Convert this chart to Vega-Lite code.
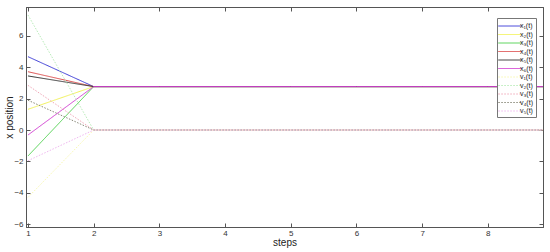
{
  "$schema": "https://vega.github.io/schema/vega-lite/v6.json",
  "width": 517,
  "height": 220,
  "autosize": {"type": "none"},
  "padding": {"left": 26, "top": 7, "right": 7, "bottom": 25},
  "background": "white",
  "config": {
    "view": {"stroke": "#555", "strokeWidth": 1},
    "font": "Liberation Sans",
    "axis": {
      "grid": false,
      "domainColor": "#555",
      "tickColor": "#555",
      "tickSize": -4,
      "labelColor": "#333333",
      "labelFontSize": 8,
      "labelFont": "Liberation Sans",
      "titleFont": "Liberation Sans",
      "titleFontWeight": "normal",
      "titleFontSize": 10,
      "titleColor": "#222222"
    },
    "legend": {
      "orient": "none",
      "legendX": 471,
      "legendY": 11,
      "strokeColor": "#777",
      "fillColor": "white",
      "padding": 3,
      "labelFontSize": 7,
      "labelFont": "Liberation Sans",
      "labelColor": "#222",
      "symbolType": "M-1.6,0L4,0",
      "symbolSize": 70,
      "symbolStrokeWidth": 1,
      "rowPadding": 0.5,
      "labelOffset": 10,
      "title": null
    }
  },
  "data": {
    "values": [
      {"series": "x₁(t)", "step": 1, "value": 4.68}, {"series": "x₁(t)", "step": 2, "value": 2.77}, {"series": "x₁(t)", "step": 3, "value": 2.77}, {"series": "x₁(t)", "step": 4, "value": 2.77}, {"series": "x₁(t)", "step": 5, "value": 2.77}, {"series": "x₁(t)", "step": 6, "value": 2.77}, {"series": "x₁(t)", "step": 7, "value": 2.77}, {"series": "x₁(t)", "step": 8, "value": 2.77}, {"series": "x₁(t)", "step": 9, "value": 2.77},
      {"series": "x₂(t)", "step": 1, "value": 1.32}, {"series": "x₂(t)", "step": 2, "value": 2.77}, {"series": "x₂(t)", "step": 3, "value": 2.77}, {"series": "x₂(t)", "step": 4, "value": 2.77}, {"series": "x₂(t)", "step": 5, "value": 2.77}, {"series": "x₂(t)", "step": 6, "value": 2.77}, {"series": "x₂(t)", "step": 7, "value": 2.77}, {"series": "x₂(t)", "step": 8, "value": 2.77}, {"series": "x₂(t)", "step": 9, "value": 2.77},
      {"series": "x₃(t)", "step": 1, "value": -1.66}, {"series": "x₃(t)", "step": 2, "value": 2.77}, {"series": "x₃(t)", "step": 3, "value": 2.77}, {"series": "x₃(t)", "step": 4, "value": 2.77}, {"series": "x₃(t)", "step": 5, "value": 2.77}, {"series": "x₃(t)", "step": 6, "value": 2.77}, {"series": "x₃(t)", "step": 7, "value": 2.77}, {"series": "x₃(t)", "step": 8, "value": 2.77}, {"series": "x₃(t)", "step": 9, "value": 2.77},
      {"series": "x₄(t)", "step": 1, "value": 3.72}, {"series": "x₄(t)", "step": 2, "value": 2.77}, {"series": "x₄(t)", "step": 3, "value": 2.77}, {"series": "x₄(t)", "step": 4, "value": 2.77}, {"series": "x₄(t)", "step": 5, "value": 2.77}, {"series": "x₄(t)", "step": 6, "value": 2.77}, {"series": "x₄(t)", "step": 7, "value": 2.77}, {"series": "x₄(t)", "step": 8, "value": 2.77}, {"series": "x₄(t)", "step": 9, "value": 2.77},
      {"series": "x₅(t)", "step": 1, "value": 3.45}, {"series": "x₅(t)", "step": 2, "value": 2.77}, {"series": "x₅(t)", "step": 3, "value": 2.77}, {"series": "x₅(t)", "step": 4, "value": 2.77}, {"series": "x₅(t)", "step": 5, "value": 2.77}, {"series": "x₅(t)", "step": 6, "value": 2.77}, {"series": "x₅(t)", "step": 7, "value": 2.77}, {"series": "x₅(t)", "step": 8, "value": 2.77}, {"series": "x₅(t)", "step": 9, "value": 2.77},
      {"series": "x₆(t)", "step": 1, "value": -0.32}, {"series": "x₆(t)", "step": 2, "value": 2.77}, {"series": "x₆(t)", "step": 3, "value": 2.77}, {"series": "x₆(t)", "step": 4, "value": 2.77}, {"series": "x₆(t)", "step": 5, "value": 2.77}, {"series": "x₆(t)", "step": 6, "value": 2.77}, {"series": "x₆(t)", "step": 7, "value": 2.77}, {"series": "x₆(t)", "step": 8, "value": 2.77}, {"series": "x₆(t)", "step": 9, "value": 2.77},
      {"series": "v₁(t)", "step": 1, "value": -4.3}, {"series": "v₁(t)", "step": 2, "value": 0}, {"series": "v₁(t)", "step": 3, "value": 0}, {"series": "v₁(t)", "step": 4, "value": 0}, {"series": "v₁(t)", "step": 5, "value": 0}, {"series": "v₁(t)", "step": 6, "value": 0}, {"series": "v₁(t)", "step": 7, "value": 0}, {"series": "v₁(t)", "step": 8, "value": 0}, {"series": "v₁(t)", "step": 9, "value": 0},
      {"series": "v₂(t)", "step": 1, "value": 7.34}, {"series": "v₂(t)", "step": 2, "value": 0}, {"series": "v₂(t)", "step": 3, "value": 0}, {"series": "v₂(t)", "step": 4, "value": 0}, {"series": "v₂(t)", "step": 5, "value": 0}, {"series": "v₂(t)", "step": 6, "value": 0}, {"series": "v₂(t)", "step": 7, "value": 0}, {"series": "v₂(t)", "step": 8, "value": 0}, {"series": "v₂(t)", "step": 9, "value": 0},
      {"series": "v₃(t)", "step": 1, "value": 2.85}, {"series": "v₃(t)", "step": 2, "value": 0}, {"series": "v₃(t)", "step": 3, "value": 0}, {"series": "v₃(t)", "step": 4, "value": 0}, {"series": "v₃(t)", "step": 5, "value": 0}, {"series": "v₃(t)", "step": 6, "value": 0}, {"series": "v₃(t)", "step": 7, "value": 0}, {"series": "v₃(t)", "step": 8, "value": 0}, {"series": "v₃(t)", "step": 9, "value": 0},
      {"series": "v₄(t)", "step": 1, "value": 1.9}, {"series": "v₄(t)", "step": 2, "value": 0}, {"series": "v₄(t)", "step": 3, "value": 0}, {"series": "v₄(t)", "step": 4, "value": 0}, {"series": "v₄(t)", "step": 5, "value": 0}, {"series": "v₄(t)", "step": 6, "value": 0}, {"series": "v₄(t)", "step": 7, "value": 0}, {"series": "v₄(t)", "step": 8, "value": 0}, {"series": "v₄(t)", "step": 9, "value": 0},
      {"series": "v₅(t)", "step": 1, "value": -1.96}, {"series": "v₅(t)", "step": 2, "value": 0}, {"series": "v₅(t)", "step": 3, "value": 0}, {"series": "v₅(t)", "step": 4, "value": 0}, {"series": "v₅(t)", "step": 5, "value": 0}, {"series": "v₅(t)", "step": 6, "value": 0}, {"series": "v₅(t)", "step": 7, "value": 0}, {"series": "v₅(t)", "step": 8, "value": 0}, {"series": "v₅(t)", "step": 9, "value": 0}
    ]
  },
  "resolve": {"axis": {"x": "independent", "y": "independent"}},
  "layer": [
    {
      "mark": {"type": "line", "clip": true, "strokeWidth": 1},
      "encoding": {
        "x": {"field": "step", "type": "quantitative",
              "scale": {"domain": [0.97, 8.84], "nice": false, "zero": false},
              "axis": {"title": "steps", "values": [1,2,3,4,5,6,7,8], "labelPadding": 6, "labelColor": "#333333", "titlePadding": 0, "orient": "bottom"}},
        "y": {"field": "value", "type": "quantitative",
              "scale": {"domain": [-6.19, 7.85], "nice": false, "zero": false},
              "axis": {"title": "x position", "values": [-6,-4,-2,0,2,4,6], "labelPadding": 7, "labelColor": "#333333", "titlePadding": -1, "orient": "left"}},
        "color": {"field": "series", "type": "nominal",
                  "scale": {
                    "domain": ["x₁(t)", "x₂(t)", "x₃(t)", "x₄(t)", "x₅(t)", "x₆(t)", "v₁(t)", "v₂(t)", "v₃(t)", "v₄(t)", "v₅(t)"],
                    "range": ["#3a3ad6", "#f2f25a", "#4fd24f", "#dc4c4c", "#333333", "#d23fd2", "#f8f8b0", "#b8ecb8", "#f0a8b8", "#8a8a7a", "#f0b8f0"]
                  }},
        "strokeDash": {"field": "series", "type": "nominal",
                  "scale": {
                    "domain": ["x₁(t)", "x₂(t)", "x₃(t)", "x₄(t)", "x₅(t)", "x₆(t)", "v₁(t)", "v₂(t)", "v₃(t)", "v₄(t)", "v₅(t)"],
                    "range": [[1,0],[1,0],[1,0],[1,0],[1,0],[1,0],[1.5,1.5],[1.5,1.5],[1.5,1.5],[1.5,1.5],[1.5,1.5]]
                  }}
      }
    },
    {
      "mark": {"type": "point", "opacity": 0},
      "encoding": {
        "x": {"field": "step", "type": "quantitative",
              "scale": {"domain": [0.97, 8.84], "nice": false, "zero": false},
              "axis": {"title": null, "labels": false, "values": [1,2,3,4,5,6,7,8], "orient": "top"}},
        "y": {"field": "value", "type": "quantitative",
              "scale": {"domain": [-6.19, 7.85], "nice": false, "zero": false},
              "axis": {"title": null, "labels": false, "values": [-6,-4,-2,0,2,4,6], "orient": "right"}}
      }
    }
  ]
}
